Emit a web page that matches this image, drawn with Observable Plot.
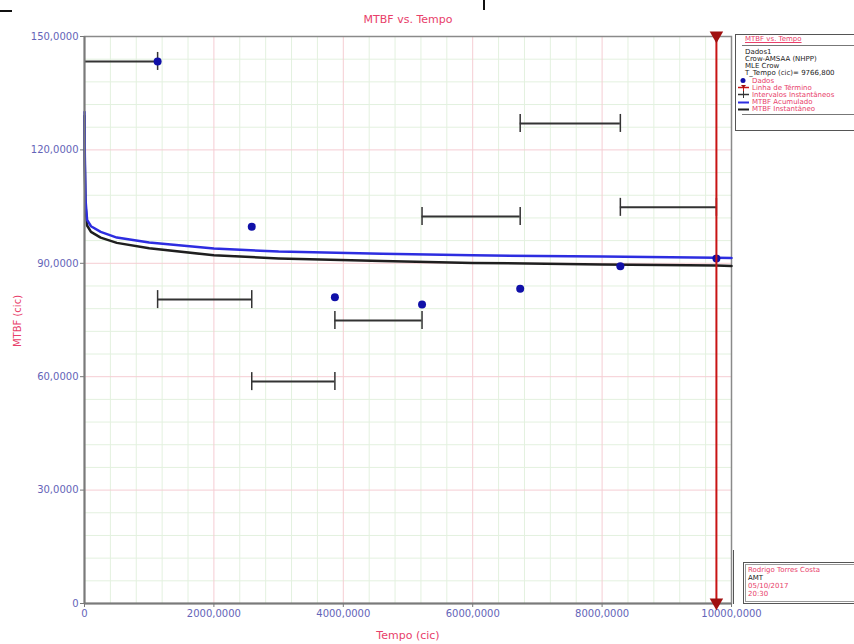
<!DOCTYPE html>
<html><head><meta charset="utf-8">
<script src="https://cdn.jsdelivr.net/npm/d3@7"></script>
<script src="https://cdn.jsdelivr.net/npm/@observablehq/plot@0.6"></script>
<style>
body{margin:0;background:#fff;font-family:"DejaVu Sans",sans-serif;}
#wrap{position:relative;width:854px;height:644px;overflow:hidden;background:#fff;}
#chart{position:absolute;left:0;top:0;}
.abs{position:absolute;white-space:nowrap;line-height:1;}
.lg{font-size:7px;color:#222;position:absolute;left:745px;white-space:nowrap;line-height:1;}
.pk{color:#e8406a;}
</style></head><body>
<div id="wrap"><div id="chart"></div></div>
<script>
// ---- data ----
const failTimes = [1130, 2585, 3870, 5217, 6734, 8282, 9766.8];
const failMTBF  = [143.4, 99.7, 81.0, 79.1, 83.3, 89.2, 91.3];
const intStart  = [0, 1130, 2585, 3870, 5217, 6734, 8282];
const intEnd    = [1130, 2585, 3870, 5217, 6734, 8282, 9766.8];
const intMTBF   = [143.4, 80.4, 58.7, 74.9, 102.4, 127.0, 104.8];
const curveT    = [1, 5, 15, 40, 100, 250, 500, 1000, 2000, 3000, 4600, 6000, 8000, 9766.8, 10000];
const cumMTBF   = [130, 118, 107, 101.5, 99.8, 98.3, 96.8, 95.5, 93.9, 93.1, 92.5, 92.1, 91.8, 91.5, 91.4];
const instMTBF  = [129, 116, 105.5, 100, 98.3, 96.8, 95.4, 94.0, 92.1, 91.3, 90.6, 90.1, 89.7, 89.4, 89.3];
const endTime   = 9766.8;
const yTicks    = [0, 30, 60, 90, 120, 150];
const xTicks    = [0, 2000, 4000, 6000, 8000, 10000];
const legendLines = ["Dados1", "Crow-AMSAA (NHPP)", "MLE Crow", "T_Tempo (cic)= 9766,800"];
const legendItems = ["Dados", "Linha de Término", "Intervalos Instantâneos", "MTBF Acumulado", "MTBF Instantâneo"];
const footLines = ["Rodrigo Torres Costa", "AMT", "05/10/2017", "20:30"];

const pts = failTimes.map((t, i) => ({t, m: failMTBF[i]}));
const ints = intStart.map((s, i) => ({s, e: intEnd[i], m: intMTBF[i]}));
const curves = curveT.map((t, i) => ({t, c: cumMTBF[i], n: instMTBF[i]}));
const fmt = d => d === 0 ? "0" : d3.format(".4f")(d).replace(".", ",");

const minorX = d3.range(400, 10000, 400).filter(v => v % 2000 !== 0);
const minorY = d3.range(6, 150, 6).filter(v => v % 30 !== 0);
const majorX = xTicks.filter(v => v > 0 && v < 10000);
const majorY = yTicks.filter(v => v > 0 && v < 150);

const chart = Plot.plot({
  width: 854, height: 644,
  marginLeft: 84, marginRight: 123, marginTop: 36, marginBottom: 41,
  style: {fontFamily: "DejaVu Sans, sans-serif", fontSize: "10px", background: "transparent"},
  x: {domain: [0, 10000]},
  y: {domain: [0, 150]},
  marks: [
    Plot.ruleX(minorX, {stroke: "#e3f1df", strokeWidth: 1}),
    Plot.ruleY(minorY, {stroke: "#e3f1df", strokeWidth: 1}),
    Plot.ruleX(majorX, {stroke: "#f5cdd3", strokeWidth: 1}),
    Plot.ruleY(majorY, {stroke: "#f5cdd3", strokeWidth: 1}),
    Plot.frame({stroke: "#8a8a8a", strokeWidth: 1.5}),
    Plot.axisY(yTicks, {tickFormat: fmt, tickSize: 4, tickPadding: 2, color: "#6464b8", stroke: "#777", label: null, fontSize: 10}),
    Plot.axisX(xTicks, {tickFormat: fmt, tickSize: 4, tickPadding: 2, color: "#6464b8", stroke: "#777", label: null, fontSize: 10}),
    // instantaneous intervals
    Plot.ruleY(ints, {x1: "s", x2: "e", y: "m", stroke: "#333", strokeWidth: 2}),
    Plot.ruleX(ints, {x: "e", y1: "m", y2: "m", insetTop: -9, insetBottom: -9, stroke: "#333", strokeWidth: 1.5}),
    Plot.ruleX(ints.filter(d => d.s > 0), {x: "s", y1: "m", y2: "m", insetTop: -9, insetBottom: -9, stroke: "#333", strokeWidth: 1.5}),
    // curves
    Plot.line(curves, {x: "t", y: "n", stroke: "#1f1f1f", strokeWidth: 2.5}),
    Plot.line(curves, {x: "t", y: "c", stroke: "#2d2de0", strokeWidth: 2.5}),
    // axes lines
    Plot.ruleX([0], {stroke: "#7a7a7a", strokeWidth: 2}),
    Plot.ruleY([0], {stroke: "#7a7a7a", strokeWidth: 2}),
    // data points
    Plot.dot(pts, {x: "t", y: "m", r: 4, fill: "#1010a8", stroke: "none"}),
    // termination line
    Plot.ruleX([endTime], {stroke: "#c81414", strokeWidth: 2}),
    Plot.dot([{t: endTime, v: 150}, {t: endTime, v: 0}], {x: "t", y: "v", symbol: "triangle", rotate: 180, r: 5, fill: "#a01010", stroke: "none", dy: -1})
  ]
});
const wrap = document.getElementById("wrap");
document.getElementById("chart").appendChild(chart);

function addDiv(html, css, cls) {
  const d = document.createElement("div");
  d.className = cls || "abs";
  d.innerHTML = html;
  Object.assign(d.style, css);
  wrap.appendChild(d);
  return d;
}
// title and axis titles
addDiv("MTBF vs. Tempo", {left: "0px", width: "816px", textAlign: "center", top: "14px", fontSize: "11px", color: "#e8406a"});
addDiv("Tempo (cic)", {left: "0px", width: "816px", textAlign: "center", top: "630px", fontSize: "11px", color: "#e8406a"});
addDiv("MTBF (cic)", {left: "-12px", top: "316px", fontSize: "10px", color: "#e8406a", transform: "rotate(-90deg)", width: "60px", textAlign: "center"});
// small artifacts at the top
addDiv("", {left: "0px", top: "10px", width: "12px", height: "2px", background: "#111"});
addDiv("", {left: "483px", top: "0px", width: "2px", height: "10px", background: "#111"});

// legend box
addDiv("", {left: "735px", top: "34px", width: "130px", height: "95px", border: "1px solid #555"});
addDiv("", {left: "742px", top: "45px", width: "120px", height: "0px", borderTop: "1px solid #777"});
addDiv("MTBF vs. Tempo", {left: "745px", top: "36px", textDecoration: "underline"}, "lg pk");
legendLines.forEach((s, i) => addDiv(s, {top: (49 + i * 7) + "px"}, "lg"));
const sym = [
  '<svg width="12" height="7"><circle cx="5" cy="3.5" r="2.5" fill="#1010a8"/></svg>',
  '<svg width="12" height="7"><path d="M0,3.5H11" stroke="#c81414" stroke-width="1.5"/><path d="M5.5,1V7" stroke="#c81414"/><path d="M3,1L8,1L5.5,4Z" fill="#a01010"/></svg>',
  '<svg width="12" height="7"><path d="M0,3.5H11" stroke="#333" stroke-width="1.5"/><path d="M5.5,0V7" stroke="#333"/></svg>',
  '<svg width="12" height="7"><path d="M0,3.5H11" stroke="#2d2de0" stroke-width="2"/></svg>',
  '<svg width="12" height="7"><path d="M0,3.5H11" stroke="#1f1f1f" stroke-width="2"/></svg>'
];
legendItems.forEach((s, i) => {
  addDiv(sym[i], {left: "738px", top: (77 + i * 7.2) + "px", fontSize: "0px"}, "abs");
  addDiv(s, {left: "752px", top: (77.5 + i * 7.2) + "px"}, "lg pk");
});
addDiv("", {left: "742px", top: "114px", width: "120px", height: "0px", borderTop: "1px solid #777"});

// footer box
addDiv("", {left: "733px", top: "550px", width: "0px", height: "54px", borderLeft: "1px solid #555"});
addDiv("", {left: "743px", top: "562px", width: "120px", height: "40px", border: "1px solid #555"});
addDiv("", {left: "745px", top: "564px", width: "116px", height: "36px", border: "1px solid #999"});
footLines.forEach((s, i) => addDiv(s, {top: (567 + i * 8) + "px", left: "748px", color: i === 1 ? "#222" : "#e8406a"}, "lg"));
</script>
</body></html>
